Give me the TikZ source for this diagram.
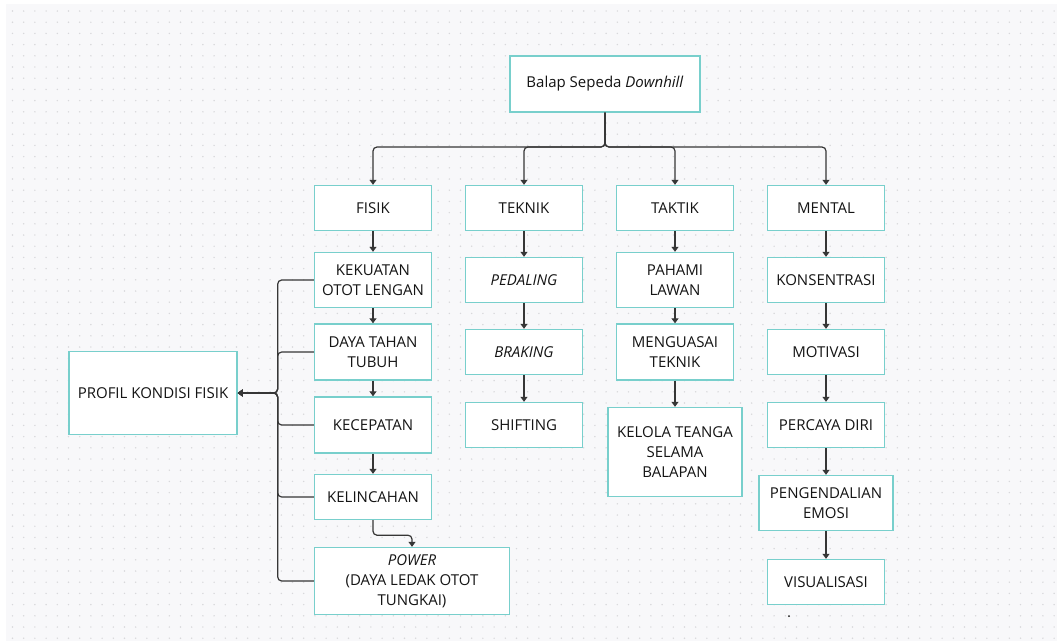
\documentclass[tikz,border=0pt]{standalone}
\usepackage{fontspec}
\setmainfont{Open Sans}
\usetikzlibrary{arrows.meta}

\definecolor{boxline}{HTML}{78CFCC}
\definecolor{panel}{HTML}{F8F8FA}
\definecolor{griddot}{HTML}{D8D8DB}
\definecolor{wirecol}{HTML}{363636}
\definecolor{ink}{HTML}{141414}

\tikzset{
    box/.style={draw=boxline, line width=1.4pt, fill=white, text=ink,
        align=center, inner sep=2pt, minimum width=117pt,
        font=\fontsize{15}{20}\selectfont},
    wire/.style={draw=wirecol, line width=1.2pt, rounded corners=4pt},
}

\begin{document}
\begin{tikzpicture}[
    x=1pt, y=-1pt,
    > = {Triangle[length=5pt, width=7pt]}
]
    % Canvas with dotted grid
    \useasboundingbox (0,0) rectangle (1057,641);
    \fill[white] (0,0) rectangle (1057,641);
    \fill[panel] (6,4) rectangle (1057,641);
    \foreach \i in {0,...,93}
        \foreach \j in {0,...,56}
            \fill[griddot] (12.5+11.2*\i, 11+11.2*\j) circle (0.8pt);

    % Root
    \node[box, minimum width=190pt, minimum height=56pt] (root) at (605,84)
        {Balap Sepeda \textit{Downhill}};

    % Main aspects
    \node[box, minimum height=45pt] (fisik)  at (373,208) {FISIK};
    \node[box, minimum height=45pt] (teknik) at (524,208) {TEKNIK};
    \node[box, minimum height=45pt] (taktik) at (675,208) {TAKTIK};
    \node[box, minimum height=45pt] (mental) at (826,208) {MENTAL};

    % Fisik
    \node[box, minimum height=55pt] (kekuatan)   at (373,280) {KEKUATAN\\OTOT LENGAN};
    \node[box, minimum height=56pt] (dayatahan)  at (373,352) {DAYA TAHAN\\TUBUH};
    \node[box, minimum height=56pt] (kecepatan)  at (373,425) {KECEPATAN};
    \node[box, minimum height=45pt] (kelincahan) at (373,497) {KELINCAHAN};
    \node[box, minimum width=195pt, minimum height=67pt] (power) at (412,581)
        {\textit{POWER}\\(DAYA LEDAK OTOT\\TUNGKAI)};
    \node[box, minimum width=168pt, minimum height=83pt] (profil) at (153,393)
        {PROFIL KONDISI FISIK};

    % Teknik
    \node[box, minimum height=45pt] (pedaling) at (524,280) {\textit{PEDALING}};
    \node[box, minimum height=45pt] (braking)  at (524,352) {\textit{BRAKING}};
    \node[box, minimum height=45pt] (shifting) at (524,425) {SHIFTING};

    % Taktik
    \node[box, minimum height=55pt] (pahami)    at (675,280) {PAHAMI\\LAWAN};
    \node[box, minimum height=56pt] (menguasai) at (675,352) {MENGUASAI\\TEKNIK};
    \node[box, minimum width=134pt, minimum height=89pt] (kelola) at (675,452)
        {KELOLA TEANGA\\SELAMA\\BALAPAN};

    % Mental
    \node[box, minimum height=45pt] (konsentrasi) at (826,280) {KONSENTRASI};
    \node[box, minimum height=45pt] (motivasi)    at (826,352) {MOTIVASI};
    \node[box, minimum height=45pt] (percaya)     at (826,425) {PERCAYA DIRI};
    \node[box, minimum width=134pt, minimum height=55pt] (emosi) at (826,503)
        {PENGENDALIAN\\EMOSI};
    \node[box, minimum height=45pt] (visualisasi) at (826,582) {VISUALISASI};

    % Root to aspects
    \coordinate (bus) at (605,147);
    \foreach \t in {fisik, teknik, taktik, mental}
        \draw[wire, ->] (root.south) -- (bus) -| (\t.north);

    % Columns
    \foreach \a/\b in {fisik/kekuatan, kekuatan/dayatahan, dayatahan/kecepatan,
                       kecepatan/kelincahan,
                       teknik/pedaling, pedaling/braking, braking/shifting,
                       taktik/pahami, pahami/menguasai, menguasai/kelola,
                       mental/konsentrasi, konsentrasi/motivasi, motivasi/percaya,
                       percaya/emosi, emosi/visualisasi}
        \draw[wire, ->] (\a) -- (\b);
    \draw[wire, ->] (kelincahan.south) -- ++(0,15) -| (power.north);

    % Fisik components to profil
    \path (profil.east) ++(40,0) coordinate (spine);
    \foreach \s in {kekuatan, dayatahan, kecepatan, kelincahan, power}
        \draw[wire, ->] (\s.west) -| (spine) -- (profil.east);

    \fill[ink] (789,616) circle (1pt);
\end{tikzpicture}
\end{document}
